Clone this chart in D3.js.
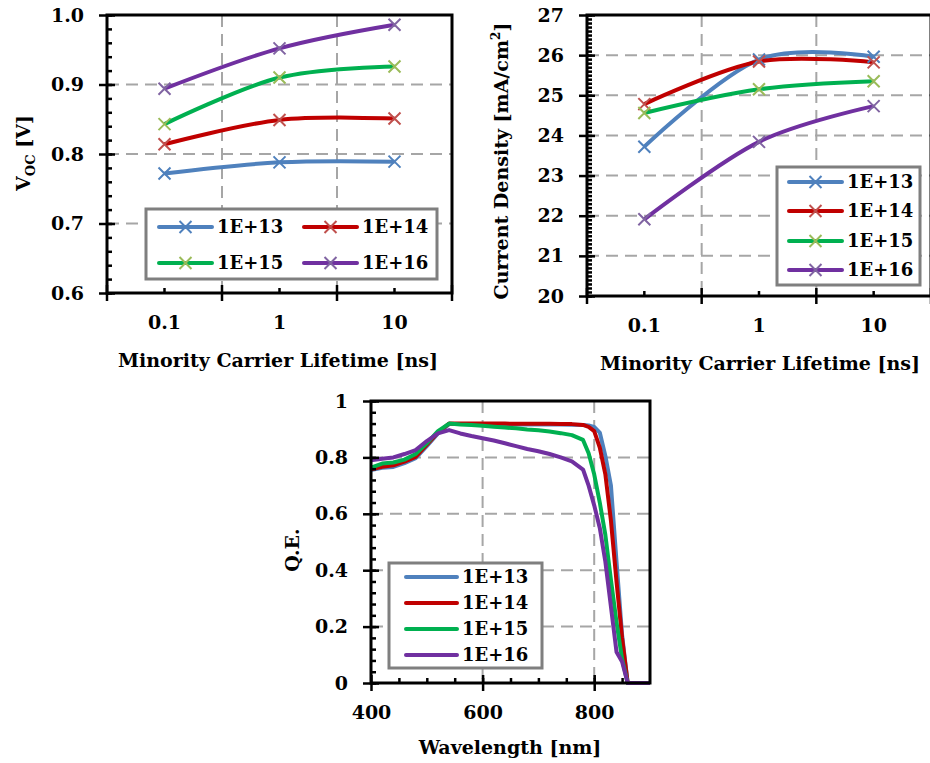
<!DOCTYPE html>
<html>
<head>
<meta charset="utf-8">
<script src="https://cdn.jsdelivr.net/npm/d3@7"></script>
<style>
  body { margin: 0; background: #fff; }
  text { font-family: "DejaVu Serif", serif; font-weight: bold; fill: #000; }
</style>
</head>
<body>
<svg id="fig" width="930" height="763"></svg>
<script>
/* Data */
const LIFETIMES = ['0.1', '1', '10'];
const SERIES = ['1E+13', '1E+14', '1E+15', '1E+16'];

// open-circuit voltage [V]
const VOC_13 = [0.772, 0.788, 0.789];
const VOC_14 = [0.814, 0.849, 0.851];
const VOC_15 = [0.843, 0.910, 0.926];
const VOC_16 = [0.894, 0.952, 0.986];

// current density [mA/cm2]
const JSC_13 = [23.72, 25.89, 25.96];
const JSC_14 = [24.78, 25.84, 25.82];
const JSC_15 = [24.56, 25.15, 25.35];
const JSC_16 = [21.91, 23.84, 24.73];

// quantum efficiency vs wavelength
const WAVELENGTH = [400, 420, 440, 460, 480, 500, 520, 540, 560, 580, 600, 620, 640, 660, 680, 700,
  720, 740, 760, 780, 790, 800, 810, 820, 830, 840, 850, 860, 880, 900];
const QE_13 = [0.755, 0.763, 0.766, 0.780, 0.797, 0.840, 0.885, 0.918, 0.918, 0.918, 0.918, 0.918, 0.918, 0.917, 0.917, 0.917,
  0.917, 0.917, 0.916, 0.915, 0.913, 0.908, 0.888, 0.805, 0.700, 0.430, 0.170, 0, 0, 0];
const QE_14 = [0.758, 0.767, 0.772, 0.785, 0.802, 0.845, 0.888, 0.920, 0.920, 0.920, 0.920, 0.920, 0.920, 0.919, 0.919, 0.919,
  0.919, 0.918, 0.918, 0.915, 0.908, 0.893, 0.835, 0.740, 0.575, 0.360, 0.160, 0, 0, 0];
const QE_15 = [0.764, 0.778, 0.782, 0.792, 0.812, 0.850, 0.893, 0.920, 0.917, 0.915, 0.912, 0.909, 0.906, 0.903, 0.899, 0.896,
  0.892, 0.886, 0.879, 0.862, 0.815, 0.740, 0.640, 0.525, 0.365, 0.215, 0.085, 0, 0, 0];
const QE_16 = [0.790, 0.795, 0.800, 0.812, 0.826, 0.858, 0.885, 0.897, 0.885, 0.876, 0.868, 0.860, 0.850, 0.840, 0.830, 0.822,
  0.812, 0.800, 0.786, 0.757, 0.700, 0.630, 0.550, 0.430, 0.270, 0.110, 0.075, 0, 0, 0];

/* Styles */
const LINE_COLORS = ['#4F81BD', '#C00000', '#00B050', '#7030A0'];
const MARK_COLORS = ['#4F81BD', '#C0504D', '#9BBB59', '#8064A2'];
const GRID = '#A6A6A6';
const FONT = 19;
const LEGEND_FONT = 18;

const svg = d3.select('#fig');
svg.append('rect').attr('width', 930).attr('height', 763).attr('fill', '#fff');

function gridH(g, y, vals, x0, x1) {
  g.selectAll(null).data(vals).enter().append('line')
    .attr('x1', x0).attr('x2', x1)
    .attr('y1', d => y(d)).attr('y2', d => y(d))
    .attr('stroke', GRID).attr('stroke-width', 2).attr('stroke-dasharray', '12,7');
}
function gridV(g, xs, y0, y1) {
  g.selectAll(null).data(xs).enter().append('line')
    .attr('x1', d => d).attr('x2', d => d)
    .attr('y1', y0).attr('y2', y1)
    .attr('stroke', GRID).attr('stroke-width', 2).attr('stroke-dasharray', '12,7');
}
function styleAxis(a) {
  a.select('.domain').remove();
  a.selectAll('line').attr('stroke', '#000').attr('stroke-width', 2.5);
  a.selectAll('text').attr('font-size', FONT).attr('fill', '#000')
    .style('font-family', '"DejaVu Serif", serif').style('font-weight', 'bold');
}
function xMark(g, cx, cy, color) {
  g.append('path').attr('d', `M${cx - 6},${cy - 6}L${cx + 6},${cy + 6}M${cx - 6},${cy + 6}L${cx + 6},${cy - 6}`)
    .attr('stroke', color).attr('stroke-width', 2).attr('fill', 'none');
}
function legendBox(g, x0, y0, x1, y1) {
  g.append('rect').attr('x', x0).attr('y', y0).attr('width', x1 - x0).attr('height', y1 - y0)
    .attr('fill', '#fff').attr('stroke', '#7F7F7F').attr('stroke-width', 3);
}
function legendItem(g, i, lx, ly, len, marker) {
  g.append('line').attr('x1', lx).attr('x2', lx + len).attr('y1', ly).attr('y2', ly)
    .attr('stroke', LINE_COLORS[i]).attr('stroke-width', 4).attr('stroke-linecap', 'round');
  if (marker) xMark(g, lx + len / 2, ly, MARK_COLORS[i]);
  g.append('text').attr('x', lx + len + 5).attr('y', ly).attr('dy', '0.36em')
    .attr('font-size', LEGEND_FONT).text(SERIES[i]);
}

/* Lifetime charts (category axis, smoothed lines) */
function lifetimeChart(c) {
  const g = svg.append('g');
  const x = d3.scaleBand().domain(LIFETIMES).range([c.left, c.right]);
  const y = d3.scaleLinear().domain(c.yDomain).range([c.bottom, c.top]);
  const majors = y.ticks(c.majorCount);
  const minors = y.ticks(c.minorCount);
  const bounds = LIFETIMES.map(d => x(d)).concat([c.right]);
  const cx = d => x(d) + x.bandwidth() / 2;

  gridH(g, y, majors.slice(1, -1), c.left, c.right);
  gridV(g, bounds.slice(1, -1), c.top, c.bottom);

  const line = d3.line().x((d, i) => cx(LIFETIMES[i])).y(d => y(d)).curve(d3.curveCardinal.tension(0));
  c.data.forEach((vals, i) => {
    g.append('path').attr('d', line(vals)).attr('fill', 'none')
      .attr('stroke', LINE_COLORS[i]).attr('stroke-width', 4);
  });
  c.data.forEach((vals, i) => {
    vals.forEach((v, j) => xMark(g, cx(LIFETIMES[j]), y(v), MARK_COLORS[i]));
  });

  g.append('rect').attr('x', c.left).attr('y', c.top)
    .attr('width', c.right - c.left).attr('height', c.bottom - c.top)
    .attr('fill', 'none').attr('stroke', '#000').attr('stroke-width', 3);

  // y axis
  g.append('g').attr('transform', `translate(${c.left},0)`)
    .call(d3.axisLeft(y).tickValues(minors).tickSize(-5).tickFormat('')).call(styleAxis);
  g.append('g').attr('transform', `translate(${c.left},0)`)
    .call(d3.axisLeft(y).tickValues(majors).tickSize(-8).tickFormat('')).call(styleAxis);
  g.append('g').attr('transform', `translate(${c.left},0)`)
    .call(d3.axisLeft(y).tickValues(majors).tickSize(8).tickPadding(15).tickFormat(c.fmt)).call(styleAxis);

  // x axis: small ticks at categories, crossing ticks at boundaries
  g.append('g').attr('transform', `translate(0,${c.bottom})`)
    .call(d3.axisBottom(x).tickSize(-5).tickPadding(23)).call(styleAxis);
  g.selectAll(null).data(bounds).enter().append('line')
    .attr('x1', d => d).attr('x2', d => d).attr('y1', c.bottom - 8).attr('y2', c.bottom + 8)
    .attr('stroke', '#000').attr('stroke-width', 2.5);

  g.append('text').attr('x', c.xTitle[0]).attr('y', c.xTitle[1]).attr('text-anchor', 'middle')
    .attr('font-size', FONT).text('Minority Carrier Lifetime [ns]');
  const yt = g.append('text').attr('transform', `translate(${c.yTitle[0]},${c.yTitle[1]}) rotate(-90)`)
    .attr('text-anchor', 'middle').attr('font-size', FONT);
  c.yLabel(yt);
  return g;
}

const gA = lifetimeChart({
  left: 107, right: 452, top: 15, bottom: 293,
  yDomain: [0.6, 1.0], majorCount: 4, minorCount: 20, fmt: d3.format('.1f'),
  data: [VOC_13, VOC_14, VOC_15, VOC_16],
  xTitle: [278, 367], yTitle: [30, 153],
  yLabel: t => {
    t.append('tspan').text('V');
    t.append('tspan').attr('font-size', 13).attr('dy', 5).text('OC');
    t.append('tspan').attr('dy', -5).text(' [V]');
  }
});
legendBox(gA, 146, 209, 437, 279);
[[159, 227], [304, 227], [159, 263], [304, 263]].forEach((p, i) => legendItem(gA, i, p[0], p[1], 53, true));

const gB = lifetimeChart({
  left: 587, right: 931, top: 15, bottom: 296,
  yDomain: [20, 27], majorCount: 7, minorCount: 70, fmt: d3.format('d'),
  data: [JSC_13, JSC_14, JSC_15, JSC_16],
  xTitle: [760, 370], yTitle: [508, 161],
  yLabel: t => {
    t.append('tspan').text('Current Density [mA/cm');
    t.append('tspan').attr('font-size', 12).attr('dy', -8).text('2');
    t.append('tspan').attr('dy', 8).text(']');
  }
});
legendBox(gB, 777, 167, 920, 285);
[182, 211, 241, 270].forEach((ry, i) => legendItem(gB, i, 789, ry, 53, true));

/* Quantum efficiency chart */
(function qeChart() {
  const L = 371, R = 650, T = 401, B = 683;
  const g = svg.append('g');
  const x = d3.scaleLinear().domain([400, 900]).range([L, R]);
  const y = d3.scaleLinear().domain([0, 1]).range([B, T]);
  const yMajor = y.ticks(5);
  const yMinor = d3.range(0, 1.0001, 0.04);
  const xMajor = [400, 600, 800];
  const xMinor = d3.range(450, 900, 50);

  gridH(g, y, yMajor.slice(1, -1), L, R);
  gridV(g, xMajor.slice(1).map(x), T, B);

  const line = d3.line().x((d, i) => x(WAVELENGTH[i])).y(d => y(d));
  [QE_13, QE_14, QE_15, QE_16].forEach((vals, i) => {
    g.append('path').attr('d', line(vals)).attr('fill', 'none')
      .attr('stroke', LINE_COLORS[i]).attr('stroke-width', 4).attr('stroke-linejoin', 'round');
  });

  g.append('rect').attr('x', L).attr('y', T).attr('width', R - L).attr('height', B - T)
    .attr('fill', 'none').attr('stroke', '#000').attr('stroke-width', 3);

  g.append('g').attr('transform', `translate(${L},0)`)
    .call(d3.axisLeft(y).tickValues(yMinor).tickSize(-5).tickFormat('')).call(styleAxis);
  g.append('g').attr('transform', `translate(${L},0)`)
    .call(d3.axisLeft(y).tickValues(yMajor).tickSize(-8).tickFormat('')).call(styleAxis);
  g.append('g').attr('transform', `translate(${L},0)`)
    .call(d3.axisLeft(y).tickValues(yMajor).tickSize(8).tickPadding(15).tickFormat(d3.format('~g'))).call(styleAxis);

  g.append('g').attr('transform', `translate(0,${B})`)
    .call(d3.axisBottom(x).tickValues(xMinor).tickSize(-5).tickFormat('')).call(styleAxis);
  g.append('g').attr('transform', `translate(0,${B})`)
    .call(d3.axisBottom(x).tickValues(xMajor).tickSize(-8).tickFormat('')).call(styleAxis);
  g.append('g').attr('transform', `translate(0,${B})`)
    .call(d3.axisBottom(x).tickValues(xMajor).tickSize(8).tickPadding(15).tickFormat(d3.format('d'))).call(styleAxis);

  g.append('text').attr('x', 510).attr('y', 754).attr('text-anchor', 'middle')
    .attr('font-size', FONT).text('Wavelength [nm]');
  g.append('text').attr('transform', 'translate(299,550) rotate(-90)').attr('text-anchor', 'middle')
    .attr('font-size', FONT).text('Q.E.');

  legendBox(g, 389, 563, 542, 668);
  [577, 603, 629, 655].forEach((ry, i) => legendItem(g, i, 406, ry, 51, false));
})();
</script>
</body>
</html>
